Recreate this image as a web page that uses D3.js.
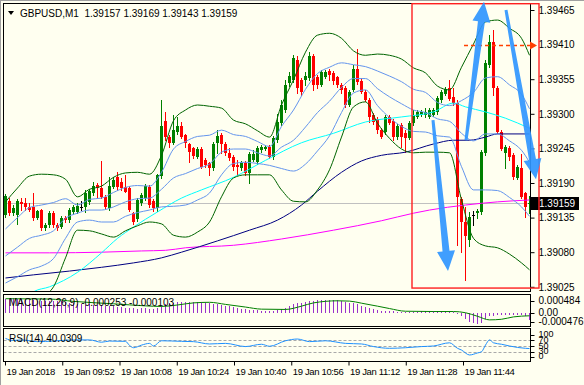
<!DOCTYPE html>
<html>
<head>
<meta charset="utf-8">
<script src="https://cdn.jsdelivr.net/npm/d3@7"></script>
<style>
  body { margin: 0; background: #fffff0; }
  svg { display: block; font-family: "Liberation Sans", Arial, sans-serif; }
</style>
</head>
<body>
<div id="chart-area"></div>
<script>
// GBPUSD M1, first bar 09:36
let OPEN = [
1.39139,1.39161,1.39142,1.39139,1.39160,1.39158,1.39152,1.39152,1.39134,1.39147,
1.39118,1.39123,1.39142,1.39123,1.39120,1.39134,1.39131,1.39144,1.39144,1.39152,
1.39152,1.39160,1.39174,1.39187,1.39182,1.39168,1.39150,1.39184,1.39199,1.39192,
1.39184,1.39182,1.39142,1.39133,1.39158,1.39166,1.39184,1.39161,1.39150,1.39201,
1.39289,1.39263,1.39254,1.39271,1.39281,1.39266,1.39252,1.39246,1.39231,1.39244,
1.39226,1.39222,1.39214,1.39254,1.39266,1.39252,1.39238,1.39231,1.39219,1.39214,
1.39222,1.39206,1.39226,1.39223,1.39242,1.39244,1.39247,1.39231,1.39258,1.39285,
1.39306,1.39349,1.39354,1.39385,1.39354,1.39354,1.39357,1.39392,1.39358,1.39346,
1.39358,1.39368,1.39365,1.39358,1.39346,1.39341,1.39314,1.39338,1.39371,1.39352,
1.39335,1.39322,1.39298,1.39292,1.39274,1.39271,1.39295,1.39289,1.39263,1.39282,
1.39269,1.39261,1.39285,1.39295,1.39298,1.39298,1.39295,1.39298,1.39303,1.39322,
1.39331,1.39341,1.39327,1.39317,1.39165,1.39128,1.39099,1.39139,1.39142,1.39144,
1.39238,1.39378,1.39414,1.39341,1.39271,1.39238,1.39246,1.39234,1.39198,1.39214,
1.39174,1.39157]
let HIGH = [
1.39172,1.39166,1.39155,1.39165,1.39166,1.39166,1.39158,1.39174,1.39147,1.39149,
1.39126,1.39145,1.39145,1.39126,1.39137,1.39137,1.39150,1.39155,1.39158,1.39161,
1.39179,1.39180,1.39192,1.39190,1.39225,1.39171,1.39199,1.39199,1.39207,1.39198,
1.39203,1.39185,1.39144,1.39166,1.39174,1.39188,1.39187,1.39165,1.39204,1.39322,
1.39303,1.39266,1.39298,1.39295,1.39287,1.39268,1.39254,1.39247,1.39247,1.39247,
1.39230,1.39223,1.39255,1.39274,1.39269,1.39255,1.39246,1.39234,1.39226,1.39225,
1.39225,1.39239,1.39242,1.39249,1.39250,1.39250,1.39250,1.39265,1.39300,1.39322,
1.39354,1.39366,1.39393,1.39392,1.39357,1.39366,1.39398,1.39395,1.39362,1.39370,
1.39370,1.39371,1.39368,1.39360,1.39349,1.39344,1.39338,1.39378,1.39403,1.39357,
1.39338,1.39325,1.39301,1.39295,1.39277,1.39298,1.39298,1.39292,1.39284,1.39285,
1.39274,1.39289,1.39306,1.39306,1.39306,1.39309,1.39309,1.39309,1.39328,1.39338,
1.39343,1.39354,1.39341,1.39322,1.39168,1.39152,1.39144,1.39145,1.39149,1.39242,
1.39385,1.39425,1.39433,1.39344,1.39274,1.39250,1.39249,1.39238,1.39219,1.39236,
1.39176,1.39169]
let LOW = [
1.39136,1.39139,1.39139,1.39125,1.39147,1.39147,1.39145,1.39131,1.39133,1.39115,
1.39115,1.39120,1.39120,1.39115,1.39118,1.39128,1.39128,1.39141,1.39142,1.39147,
1.39144,1.39157,1.39171,1.39168,1.39166,1.39150,1.39147,1.39182,1.39179,1.39179,
1.39176,1.39145,1.39125,1.39129,1.39155,1.39163,1.39152,1.39145,1.39145,1.39198,
1.39258,1.39247,1.39252,1.39268,1.39261,1.39247,1.39223,1.39230,1.39230,1.39214,
1.39215,1.39203,1.39211,1.39238,1.39238,1.39234,1.39226,1.39211,1.39203,1.39211,
1.39203,1.39190,1.39225,1.39220,1.39239,1.39242,1.39230,1.39228,1.39255,1.39282,
1.39303,1.39344,1.39351,1.39333,1.39330,1.39346,1.39354,1.39338,1.39341,1.39344,
1.39357,1.39354,1.39347,1.39343,1.39333,1.39311,1.39312,1.39336,1.39347,1.39333,
1.39320,1.39287,1.39284,1.39269,1.39261,1.39268,1.39284,1.39258,1.39260,1.39247,
1.39239,1.39260,1.39282,1.39293,1.39296,1.39295,1.39293,1.39296,1.39300,1.39319,
1.39330,1.39322,1.39314,1.39091,1.39080,1.39036,1.39090,1.39123,1.39134,1.39141,
1.39234,1.39374,1.39330,1.39269,1.39242,1.39214,1.39226,1.39196,1.39196,1.39166,
1.39136,1.39143]
let CLOSE = [
1.39169,1.39142,1.39150,1.39161,1.39157,1.39152,1.39147,1.39134,1.39145,1.39118,
1.39123,1.39142,1.39123,1.39118,1.39134,1.39131,1.39147,1.39152,1.39153,1.39152,
1.39174,1.39177,1.39185,1.39182,1.39168,1.39152,1.39185,1.39195,1.39184,1.39182,
1.39176,1.39147,1.39128,1.39163,1.39171,1.39185,1.39155,1.39150,1.39203,1.39281,
1.39263,1.39254,1.39274,1.39281,1.39263,1.39254,1.39239,1.39233,1.39244,1.39215,
1.39219,1.39214,1.39252,1.39265,1.39252,1.39238,1.39230,1.39215,1.39215,1.39222,
1.39206,1.39236,1.39236,1.39246,1.39247,1.39247,1.39231,1.39261,1.39287,1.39314,
1.39346,1.39360,1.39389,1.39341,1.39335,1.39360,1.39392,1.39346,1.39346,1.39366,
1.39366,1.39362,1.39352,1.39346,1.39338,1.39314,1.39335,1.39371,1.39351,1.39335,
1.39322,1.39295,1.39287,1.39274,1.39263,1.39295,1.39285,1.39263,1.39281,1.39263,
1.39261,1.39285,1.39298,1.39303,1.39303,1.39303,1.39306,1.39306,1.39325,1.39335,
1.39339,1.39323,1.39317,1.39168,1.39128,1.39106,1.39136,1.39139,1.39145,1.39239,
1.39381,1.39414,1.39341,1.39271,1.39244,1.39247,1.39231,1.39199,1.39215,1.39168,
1.39152,1.39159]

// bollinger bands every third bar
let BAND_IDX = [0,3,6,9,12,15,18,21,24,27,30,33,36,39,42,45,48,51,54,57,60,63,66,69,72,75,78,81,84,87,90,93,96,99,102,105,108,111,114,117,120,123,126,129,131]
let BB_UP = [1.39160,1.39182,1.39201,1.39204,1.39203,1.39196,1.39168,1.39180,1.39185,1.39199,1.39206,1.39207,1.39204,1.39234,1.39289,1.39306,1.39314,1.39312,1.39309,1.39290,1.39284,1.39273,1.39263,1.39314,1.39354,1.39398,1.39425,1.39428,1.39420,1.39400,1.39393,1.39395,1.39393,1.39387,1.39373,1.39365,1.39344,1.39338,1.39374,1.39411,1.39446,1.39449,1.39436,1.39420,1.39393]
let BB_DN = [1.38988,1.38994,1.39002,1.39009,1.39025,1.39071,1.39115,1.39114,1.39109,1.39104,1.39114,1.39122,1.39128,1.39125,1.39107,1.39104,1.39112,1.39128,1.39168,1.39198,1.39203,1.39203,1.39203,1.39179,1.39161,1.39160,1.39179,1.39211,1.39263,1.39311,1.39319,1.39285,1.39261,1.39244,1.39238,1.39239,1.39239,1.39238,1.39163,1.39102,1.39090,1.39087,1.39077,1.39063,1.39052]
let BB1_UP = [1.39117,1.39135,1.39151,1.39155,1.39159,1.39165,1.39155,1.39164,1.39166,1.39175,1.39183,1.39186,1.39185,1.39207,1.39244,1.39256,1.39264,1.39266,1.39274,1.39267,1.39264,1.39256,1.39248,1.39280,1.39306,1.39339,1.39364,1.39374,1.39381,1.39378,1.39375,1.39368,1.39360,1.39351,1.39339,1.39334,1.39318,1.39313,1.39321,1.39334,1.39357,1.39359,1.39346,1.39331,1.39308]
let BB1_MID = [1.39074,1.39088,1.39102,1.39107,1.39114,1.39134,1.39142,1.39147,1.39147,1.39152,1.39160,1.39165,1.39166,1.39180,1.39198,1.39205,1.39213,1.39220,1.39239,1.39244,1.39244,1.39238,1.39233,1.39247,1.39258,1.39279,1.39302,1.39320,1.39342,1.39356,1.39356,1.39340,1.39327,1.39316,1.39306,1.39302,1.39292,1.39288,1.39269,1.39257,1.39268,1.39268,1.39257,1.39242,1.39223]
let BB1_DN = [1.39031,1.39041,1.39052,1.39058,1.39070,1.39102,1.39128,1.39131,1.39128,1.39128,1.39137,1.39143,1.39147,1.39152,1.39153,1.39155,1.39163,1.39174,1.39203,1.39221,1.39223,1.39221,1.39218,1.39213,1.39209,1.39220,1.39241,1.39265,1.39302,1.39333,1.39338,1.39313,1.39294,1.39280,1.39272,1.39271,1.39265,1.39263,1.39216,1.39179,1.39179,1.39178,1.39167,1.39152,1.39137]

// moving averages
let CYAN_IDX = [5,7,11,18,24,28,32,38,44,49,57,65,74,82,90,99,107,112,115,120,125,131]
let CYAN_MA = [1.39004,1.39017,1.39025,1.39048,1.39079,1.39102,1.39120,1.39144,1.39166,1.39179,1.39199,1.39226,1.39254,1.39269,1.39287,1.39295,1.39303,1.39317,1.39311,1.39303,1.39293,1.39277]
let NAVY_IDX = [0,7,16,24,32,39,44,53,61,68,74,78,84,89,94,100,107,112,116,120,123,131]
let NAVY_MA = [1.39039,1.39044,1.39050,1.39056,1.39063,1.39071,1.39080,1.39098,1.39115,1.39131,1.39155,1.39177,1.39207,1.39225,1.39234,1.39239,1.39252,1.39258,1.39258,1.39263,1.39268,1.39268]
let MAG_IDX = [0,11,24,34,40,45,57,69,82,94,102,106,115,123,131]
let MAG_MA = [1.39079,1.39079,1.39080,1.39082,1.39083,1.39087,1.39091,1.39101,1.39115,1.39130,1.39142,1.39147,1.39155,1.39160,1.39163]

// MACD(12,26,9)
let MACD_HIST = [
0.00046,0.00048,0.00048,0.00047,0.00045,0.00044,0.00043,0.00042,0.00041,0.00041,
0.00040,0.00040,0.00039,0.00039,0.00038,0.00036,0.00034,0.00031,0.00029,0.00028,
0.00027,0.00028,0.00027,0.00026,0.00025,0.00023,0.00022,0.00021,0.00019,0.00018,
0.00017,0.00016,0.00015,0.00014,0.00015,0.00015,0.00014,0.00014,0.00017,0.00024,
0.00029,0.00031,0.00033,0.00035,0.00036,0.00036,0.00037,0.00037,0.00036,0.00035,
0.00033,0.00031,0.00029,0.00028,0.00026,0.00024,0.00021,0.00018,0.00016,0.00014,
0.00012,0.00010,0.00009,0.00008,0.00007,0.00006,0.00005,0.00006,0.00008,0.00012,
0.00017,0.00022,0.00028,0.00031,0.00033,0.00036,0.00039,0.00041,0.00043,0.00044,
0.00044,0.00044,0.00043,0.00042,0.00040,0.00037,0.00034,0.00031,0.00028,0.00024,
0.00020,0.00016,0.00012,0.00009,0.00007,0.00006,0.00005,0.00005,0.00004,0.00004,
0.00003,0.00004,0.00004,0.00004,0.00005,0.00005,0.00005,0.00005,0.00005,0.00004,
0.00003,0.00002,0.00001,-0.00005,-0.00012,-0.00022,-0.00030,-0.00035,-0.00038,-0.00036,
-0.00020,-0.00012,-0.00010,-0.00009,-0.00008,-0.00008,-0.00007,-0.00007,-0.00008,-0.00009,
-0.00012,-0.000253]
let SIG_IDX = [0,11,17,27,35,39,43,47,51,55,60,64,70,74,77,83,86,89,93,96,100,107,112,115,118,121,124,127,131]
let MACD_SIG = [0.00047,0.00046,0.00038,0.00030,0.00023,0.00021,0.00026,0.00033,0.00035,0.00028,0.00019,0.00012,0.00011,0.00022,0.00033,0.00040,0.00039,0.00032,0.00022,0.00014,0.00005,0.00004,0.00004,0.00000,-0.00012,-0.00024,-0.00022,-0.00014,-0.000103]

// RSI(14)
let RSI_IDX = [0,2,4,8,12,17,21,24,26,30,31,32,34,36,37,39,44,47,51,55,60,64,66,70,73,76,80,85,89,92,96,100,104,107,111,113,114,116,118,119,120,121,122,124,126,128,130,131]
let RSI_VAL = [75,68,70,64,66,70,70,62,66,65,51,43,52,58,49,67,65,64,56,58,47,55,48,67,73,64,67,58,56,47,41,43,47,49,60,41,35,18,25,29,52,70,60,55,49,44,41,40.0309]

let PRICE_TICKS = [1.39465, 1.39410, 1.39355, 1.39300, 1.39245, 1.39190, 1.39135, 1.39080, 1.39025]
let BID = 1.39159
let MACD_TICKS = [0.000484, 0, -0.000476]
let MACD_TICK_LABELS = ["0.000484", "0.00", "-0.000476"]
let RSI_TICKS = [100, 70, 50, 30, 0]
let TIME_TICKS = ["09:36", "09:52", "10:08", "10:24", "10:40", "10:56", "11:12", "11:28", "11:44"]
let TIME_LABELS = ["19 Jan 2018", "19 Jan 09:52", "19 Jan 10:08", "19 Jan 10:24", "19 Jan 10:40", "19 Jan 10:56", "19 Jan 11:12", "19 Jan 11:28", "19 Jan 11:44"]

// drawn objects (bar index, price)
let RECT_OBJ = {from: 101.75, to: 133.5, top: 1.39475, bottom: 1.39023}
let ORANGE_OBJ = {from: 114.75, to: 133, price: 1.39410}
let ARROWS = [
    {from: [107, 1.39290], to: [110.75, 1.39050]},
    {from: [115.25, 1.39258], to: [119.75, 1.39478]},
    {from: [125.25, 1.39465], to: [132.75, 1.39196]}
]

let W = 584, H = 385
let P = {LEFT: 3.5, RIGHT: 530.5, TOP: 3.5, MAIN_BOTTOM: 291.5, MACD_TOP: 294.5, MACD_BOTTOM: 326.5, RSI_TOP: 328.5, RSI_BOTTOM: 361.5}
let FONT = "Liberation Sans, Arial, sans-serif"

let svg = d3.select("#chart-area").append("svg")
    .attr("width", W)
    .attr("height", H)
svg.append("rect").attr("width", W).attr("height", H).attr("fill", "#fffff0")

let x = d3.scaleLinear().domain([0, OPEN.length - 1]).range([5, 529])
let y = d3.scaleLinear().domain([1.39025, 1.39465]).range([286.8, 10])
let yMacd = d3.scaleLinear().domain([-0.000476, 0.000484]).range([326.9, 298.3])
let yRsi = d3.scaleLinear().domain([0, 100]).range([360.2, 331.2])

// the minute feed has gaps: 09:36..11:44 spans 114.5 bar slots
let parseT = d3.timeParse("%H:%M")
let t = d3.scaleTime()
    .domain([parseT(TIME_TICKS[0]), parseT(TIME_TICKS[TIME_TICKS.length - 1])])
    .range([x(0), x(114.5)])

let defs = svg.append("defs")
function addClip(id, top, bottom) {
    defs.append("clipPath").attr("id", id).append("rect")
        .attr("x", P.LEFT + 0.5).attr("y", top + 0.5)
        .attr("width", P.RIGHT - P.LEFT - 1).attr("height", bottom - top - 1)
}
addClip("clip-main", P.TOP, P.MAIN_BOTTOM)
addClip("clip-macd", P.MACD_TOP, P.MACD_BOTTOM)
addClip("clip-rsi", P.RSI_TOP, P.RSI_BOTTOM)
defs.append("filter").attr("id", "soft").append("feGaussianBlur").attr("stdDeviation", 0.5)

// window frame + panel borders
svg.append("line").attr("x1", 0).attr("x2", W).attr("y1", 0.5).attr("y2", 0.5).attr("stroke", "#a0a0a0")
svg.append("line").attr("x1", 0.5).attr("x2", 0.5).attr("y1", 0).attr("y2", H).attr("stroke", "#a0a0a0")
;[[P.TOP, P.MAIN_BOTTOM], [P.MACD_TOP, P.MACD_BOTTOM], [P.RSI_TOP, P.RSI_BOTTOM]].forEach(p => {
    svg.append("rect")
        .attr("x", P.LEFT).attr("y", p[0])
        .attr("width", P.RIGHT - P.LEFT).attr("height", p[1] - p[0])
        .attr("fill", "none").attr("stroke", "#000")
})

// ---- main window ----
let main = svg.append("g").attr("clip-path", "url(#clip-main)")

main.append("line")
    .attr("x1", P.LEFT).attr("x2", P.RIGHT)
    .attr("y1", Math.round(y(BID)) + 0.5).attr("y2", Math.round(y(BID)) + 0.5)
    .attr("stroke", "#c0c0c0")

let bars = OPEN.map((o, i) => ({i: i, o: o, h: HIGH[i], l: LOW[i], c: CLOSE[i]}))
let candleColor = d => d.c > d.o ? "#008000" : (d.c < d.o ? "#ff0000" : "#000000")

let candles = main.append("g").attr("shape-rendering", "crispEdges")
    .selectAll("g").data(bars).enter().append("g")
candles.append("line")
    .attr("x1", d => x(d.i) + 0.5).attr("x2", d => x(d.i) + 0.5)
    .attr("y1", d => Math.round(y(d.h)))
    .attr("y2", d => Math.round(y(d.l)) + 1)
    .attr("stroke", candleColor)
candles.append("rect")
    .attr("x", d => x(d.i) - 1)
    .attr("width", 3)
    .attr("y", d => Math.round(y(Math.max(d.o, d.c))))
    .attr("height", d => Math.max(1, Math.round(y(Math.min(d.o, d.c))) - Math.round(y(Math.max(d.o, d.c)))))
    .attr("fill", candleColor)

let pairs = (idx, vals) => idx.map((d, k) => [d, vals[k]])
let priceLine = d3.line().x(d => x(d[0]) + 0.5).y(d => y(d[1])).curve(d3.curveMonotoneX)

let lines = [
    [MAG_IDX, MAG_MA, "#ff00ff"],
    [NAVY_IDX, NAVY_MA, "#000080"],
    [CYAN_IDX, CYAN_MA, "#00ffff"],
    [BAND_IDX, BB1_UP, "#6495ed"],
    [BAND_IDX, BB1_MID, "#6495ed"],
    [BAND_IDX, BB1_DN, "#6495ed"],
    [BAND_IDX, BB_UP, "#006400"],
    [BAND_IDX, BB_DN, "#006400"]
]
lines.forEach(l => {
    main.append("path")
        .attr("d", priceLine(pairs(l[0], l[1])))
        .attr("fill", "none")
        .attr("stroke", l[2])
        .attr("stroke-width", 1)
})

// price scale
let priceAxis = d3.axisRight(y)
    .tickValues(PRICE_TICKS)
    .tickFormat(d3.format(".5f"))
    .tickSize(4)
    .tickPadding(4)
svg.append("g")
    .attr("transform", `translate(${P.RIGHT}, 0)`)
    .call(priceAxis)
    .call(g => g.select(".domain").remove())
    .attr("font-family", FONT)
    .attr("font-size", 10)

let bidY = Math.round(y(BID))
svg.append("rect")
    .attr("x", P.RIGHT + 0.5).attr("y", bidY - 6)
    .attr("width", 48).attr("height", 13)
    .attr("fill", "#000")
svg.append("text")
    .attr("x", P.RIGHT + 8.5).attr("y", bidY + 4)
    .attr("font-family", FONT).attr("font-size", 10)
    .attr("fill", "#fff")
    .text(d3.format(".5f")(BID))

// header
svg.append("path").attr("d", "M8,11 L14,11 L11,15 Z").attr("fill", "#000")
svg.append("text")
    .attr("x", 20).attr("y", 17)
    .attr("font-family", FONT).attr("font-size", 10)
    .style("white-space", "pre")
    .text("GBPUSD,M1  " + [OPEN[131], HIGH[131], LOW[131], CLOSE[131]].map(d3.format(".5f")).join(" "))

// ---- MACD window ----
let macd = svg.append("g").attr("clip-path", "url(#clip-macd)")
macd.append("g").attr("shape-rendering", "crispEdges")
    .selectAll("line").data(MACD_HIST).enter().append("line")
    .attr("x1", (d, i) => x(i) + 0.5).attr("x2", (d, i) => x(i) + 0.5)
    .attr("y1", Math.round(yMacd(0)))
    .attr("y2", d => Math.round(yMacd(d)))
    .attr("stroke", "#9932cc")
macd.append("path")
    .attr("d", d3.line().x(d => x(d[0]) + 0.5).y(d => yMacd(d[1])).curve(d3.curveMonotoneX)(pairs(SIG_IDX, MACD_SIG)))
    .attr("fill", "none")
    .attr("stroke", "#008000")
svg.append("text")
    .attr("x", 9).attr("y", 306)
    .attr("font-family", FONT).attr("font-size", 10)
    .text(`MACD(12,26,9) ${MACD_HIST[131].toFixed(6)} ${MACD_SIG[28].toFixed(6)}`)

let sideLabels = (g, ticks, labels, scale, top, bottom, size) => {
    ticks.forEach((tv, k) => {
        let ty = Math.min(Math.max(scale(tv), top + 6), bottom - 5)
        g.append("line")
            .attr("x1", P.RIGHT).attr("x2", P.RIGHT + 4)
            .attr("y1", Math.round(ty) + 0.5).attr("y2", Math.round(ty) + 0.5)
            .attr("stroke", "#000")
        g.append("text")
            .attr("x", P.RIGHT + 8).attr("y", ty)
            .attr("dy", "0.32em")
            .attr("font-family", FONT).attr("font-size", size)
            .text(labels[k])
    })
}
sideLabels(svg.append("g"), MACD_TICKS, MACD_TICK_LABELS, yMacd, P.MACD_TOP, P.MACD_BOTTOM, 10)

// ---- RSI window ----
let rsi = svg.append("g").attr("clip-path", "url(#clip-rsi)")
;[70, 50, 30].forEach(lv => {
    rsi.append("line")
        .attr("x1", P.LEFT).attr("x2", P.RIGHT)
        .attr("y1", Math.round(yRsi(lv)) + 0.5).attr("y2", Math.round(yRsi(lv)) + 0.5)
        .attr("stroke", "#a9a9a9")
        .attr("stroke-dasharray", "3,2")
})
rsi.append("path")
    .attr("d", d3.line().x(d => x(d[0]) + 0.5).y(d => yRsi(d[1])).curve(d3.curveMonotoneX)(pairs(RSI_IDX, RSI_VAL)))
    .attr("fill", "none")
    .attr("stroke", "#1e90ff")
svg.append("text")
    .attr("x", 9).attr("y", 342)
    .attr("font-family", FONT).attr("font-size", 10)
    .text(`RSI(14) ${RSI_VAL[RSI_VAL.length - 1].toFixed(4)}`)
// the RSI scale labels are crammed together in the terminal too
sideLabels(svg.append("g"), RSI_TICKS, RSI_TICKS.map(String), yRsi, P.RSI_TOP, P.RSI_BOTTOM, 9)

// time scale
let timeAxis = d3.axisBottom(t)
    .tickValues(TIME_TICKS.map(parseT))
    .tickFormat((d, i) => TIME_LABELS[i])
    .tickSize(4)
    .tickPadding(3)
svg.append("g")
    .attr("transform", `translate(0, ${P.RSI_BOTTOM})`)
    .call(timeAxis)
    .call(g => g.select(".domain").remove())
    .attr("font-family", FONT)
    .attr("font-size", 9.5)
    .selectAll("text")
    .attr("text-anchor", "start")
    .attr("letter-spacing", "-0.35px")
    .attr("x", 1)

// ---- drawn objects ----
svg.append("rect")
    .attr("x", x(RECT_OBJ.from)).attr("y", y(RECT_OBJ.top))
    .attr("width", x(RECT_OBJ.to) - x(RECT_OBJ.from))
    .attr("height", y(RECT_OBJ.bottom) - y(RECT_OBJ.top))
    .attr("fill", "none")
    .attr("stroke", "#ff2020")
    .attr("stroke-width", 1.4)

let oy = Math.round(y(ORANGE_OBJ.price)) + 0.5
svg.append("line")
    .attr("x1", x(ORANGE_OBJ.from)).attr("x2", x(ORANGE_OBJ.to) - 5)
    .attr("y1", oy).attr("y2", oy)
    .attr("stroke", "#ff4000")
    .attr("stroke-width", 1.5)
    .attr("stroke-dasharray", "4,3")
svg.append("path")
    .attr("d", `M${x(ORANGE_OBJ.to) - 7},${oy - 4} L${x(ORANGE_OBJ.to)},${oy} L${x(ORANGE_OBJ.to) - 7},${oy + 4} Z`)
    .attr("fill", "#ff4000")

function arrowPath(a) {
    let x0 = x(a.from[0]), y0 = y(a.from[1]), x1 = x(a.to[0]), y1 = y(a.to[1])
    let len = Math.hypot(x1 - x0, y1 - y0)
    let ux = (x1 - x0) / len, uy = (y1 - y0) / len
    let nx = -uy, ny = ux
    let headLen = 20, headW = 9, tailW = 1.5, neckW = 3.5
    let bx = x1 - ux * headLen, by = y1 - uy * headLen
    let pts = [
        [x0 + nx * tailW, y0 + ny * tailW],
        [bx + nx * neckW, by + ny * neckW],
        [bx + nx * headW, by + ny * headW],
        [x1, y1],
        [bx - nx * headW, by - ny * headW],
        [bx - nx * neckW, by - ny * neckW],
        [x0 - nx * tailW, y0 - ny * tailW]
    ]
    return d3.line()(pts) + "Z"
}
svg.append("g").attr("filter", "url(#soft)")
    .selectAll("path").data(ARROWS).enter().append("path")
    .attr("d", arrowPath)
    .attr("fill", "#2f96ff")
    .attr("opacity", 0.92)
</script>
</body>
</html>
